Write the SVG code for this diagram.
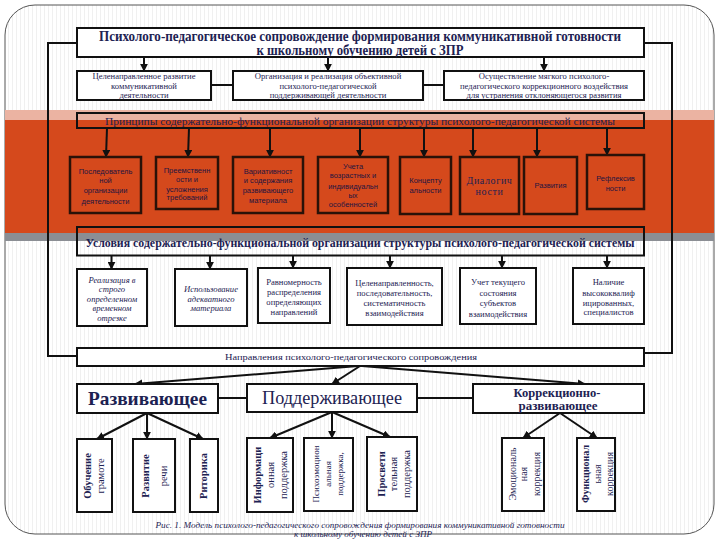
<svg xmlns="http://www.w3.org/2000/svg" width="720" height="540" viewBox="0 0 720 540">
<style>
.box{fill:#fff;stroke:#111;stroke-width:2}
.hdr{fill:none;stroke:#111;stroke-width:2}
.pbox{fill:#D5491C;stroke:#2a1208;stroke-width:2.5}
.conn{stroke:#111;stroke-width:2;fill:none}
.arr{stroke:#111;stroke-width:2;fill:none;marker-end:url(#ah)}
.t{font-family:"Liberation Serif","DejaVu Serif",serif;fill:#1d2252;text-anchor:middle}
.s{font-family:"Liberation Sans","DejaVu Sans",sans-serif;fill:#1e1540;text-anchor:middle;font-size:7.5px}
.sub{font-size:8.6px}
.cnd{font-size:8.6px}
.vt{font-size:10.5px}
.b{font-weight:bold}
.i{font-style:italic}
</style>
<defs>
<marker id="ah" viewBox="0 0 10 10" refX="9" refY="5" markerWidth="4" markerHeight="4" orient="auto" markerUnits="strokeWidth">
<path d="M0,0 L10,5 L0,10 z" fill="#111"/>
</marker>
<pattern id="stripes" width="4" height="4" patternUnits="userSpaceOnUse">
<rect width="4" height="4" fill="#fff"/>
<rect width="1" height="4" fill="#f0f0f0"/>
</pattern>
</defs>

<rect x="0" y="0" width="720" height="540" fill="#fff"/>
<rect x="5" y="5" width="709" height="529" rx="30" ry="30" fill="url(#stripes)" stroke="#555" stroke-width="1"/>

<g id="bands">
<rect x="5" y="110" width="709" height="10" fill="#EBB3A2"/>
<rect x="5" y="120" width="709" height="113" fill="#D5491C"/>
<rect x="5" y="233" width="709" height="8" fill="#8B8E94"/>
</g>

<g id="connectors">
<polyline class="conn" points="77,43 48,43 48,356 77,356"/>
<polyline class="conn" points="644,43 672,43 672,353 644,353"/>
<line class="arr" x1="144" y1="57" x2="144" y2="71"/>
<line class="arr" x1="328" y1="57" x2="328" y2="71"/>
<line class="arr" x1="544" y1="57" x2="544" y2="71"/>
<line class="conn" x1="211" y1="85" x2="233" y2="85"/>
<line class="conn" x1="423" y1="85" x2="444" y2="85"/>
<line class="arr" x1="107" y1="128" x2="106" y2="157"/>
<line class="arr" x1="189" y1="128" x2="188" y2="157"/>
<line class="arr" x1="270" y1="128" x2="270" y2="157"/>
<line class="arr" x1="360" y1="128" x2="360" y2="157"/>
<line class="arr" x1="424" y1="128" x2="424" y2="157"/>
<line class="arr" x1="473" y1="128" x2="473" y2="157"/>
<line class="arr" x1="537" y1="128" x2="537" y2="157"/>
<line class="arr" x1="607" y1="128" x2="607" y2="155"/>
<line class="arr" x1="111.5" y1="255.5" x2="111.5" y2="269"/>
<line class="arr" x1="210" y1="255.5" x2="210" y2="269"/>
<line class="arr" x1="293" y1="255.5" x2="293" y2="268"/>
<line class="arr" x1="390" y1="255.5" x2="390" y2="268"/>
<line class="arr" x1="502" y1="255.5" x2="502" y2="268"/>
<line class="arr" x1="607" y1="255.5" x2="607" y2="268"/>
<line class="arr" x1="358" y1="366" x2="135" y2="384"/>
<line class="arr" x1="360" y1="366" x2="332" y2="384"/>
<line class="arr" x1="362" y1="366" x2="585" y2="384"/>
<line class="conn" x1="218" y1="398" x2="247" y2="398"/>
<line class="conn" x1="417" y1="398" x2="473" y2="398"/>
<line class="arr" x1="147" y1="413" x2="97" y2="439"/>
<line class="arr" x1="147" y1="413" x2="147" y2="439"/>
<line class="arr" x1="147" y1="413" x2="203" y2="439"/>
<line class="arr" x1="332" y1="412" x2="270" y2="438"/>
<line class="arr" x1="332" y1="412" x2="332" y2="438"/>
<line class="arr" x1="332" y1="412" x2="390" y2="437"/>
<line class="arr" x1="560" y1="413" x2="523" y2="438"/>
<line class="arr" x1="560" y1="413" x2="597" y2="438"/>
</g>

<g id="title">
<rect class="box" x="77" y="28" width="567" height="29" stroke-width="2.5"/>
<text class="t b" x="360" y="40.5" font-size="14" textLength="522" lengthAdjust="spacingAndGlyphs">Психолого-педагогическое сопровождение формирования коммуникативной готовности</text>
<text class="t b" x="360" y="54.5" font-size="14" textLength="207" lengthAdjust="spacingAndGlyphs">к школьному обучению детей с ЗПР</text>
</g>

<g id="goal1">
<rect class="box" x="77" y="71" width="134" height="29"/>
<text class="t sub" x="144" y="79">Целенаправленное развитие</text>
<text class="t sub" x="144" y="88.5">коммуникативной</text>
<text class="t sub" x="144" y="98">деятельности</text>
</g>
<g id="goal2">
<rect class="box" x="233" y="71" width="190" height="29"/>
<text class="t sub" x="328" y="79">Организация и реализация объективной</text>
<text class="t sub" x="328" y="88.5">психолого-педагогической</text>
<text class="t sub" x="328" y="98">поддерживающей деятельности</text>
</g>
<g id="goal3">
<rect class="box" x="444" y="71" width="200" height="29"/>
<text class="t sub" x="544" y="79">Осуществление мягкого психолого-</text>
<text class="t sub" x="544" y="88.5">педагогического коррекционного воздействия</text>
<text class="t sub" x="544" y="98">для устранения отклоняющегося развития</text>
</g>

<g id="principles-header">
<rect class="hdr" x="77" y="113" width="567" height="15" stroke="#2a1208"/>
<text class="t" x="360" y="124.5" font-size="11" fill="#2a1a55" textLength="510" lengthAdjust="spacingAndGlyphs">Принципы содержательно-функциональной организации структуры психолого-педагогической системы</text>
</g>

<g id="p1">
<rect class="pbox" x="70" y="157" width="71" height="56"/>
<text class="s" x="105.5" y="174">Последователь</text>
<text class="s" x="105.5" y="183">ной</text>
<text class="s" x="105.5" y="193">организации</text>
<text class="s" x="105.5" y="203.5">деятельности</text>
</g>
<g id="p2">
<rect class="pbox" x="156" y="157" width="62" height="52"/>
<text class="s" x="187" y="172.5">Преемственн</text>
<text class="s" x="187" y="181.5">ости и</text>
<text class="s" x="187" y="191.5">усложнения</text>
<text class="s" x="187" y="200">требований</text>
</g>
<g id="p3">
<rect class="pbox" x="233" y="157" width="70" height="56"/>
<text class="s" x="268" y="173.5">Вариативност</text>
<text class="s" x="268" y="182.5">и содержания</text>
<text class="s" x="268" y="193">развивающего</text>
<text class="s" x="268" y="202.5">материала</text>
</g>
<g id="p4">
<rect class="pbox" x="318" y="157" width="70" height="56"/>
<text class="s" x="353" y="168.5">Учета</text>
<text class="s" x="353" y="178">возрастных и</text>
<text class="s" x="353" y="188.5">индивидуальн</text>
<text class="s" x="353" y="197.5">ых</text>
<text class="s" x="353" y="206.5">особенностей</text>
</g>
<g id="p5">
<rect class="pbox" x="400" y="157" width="51" height="57"/>
<text class="s" x="425.5" y="182.5">Концепту</text>
<text class="s" x="425.5" y="193">альности</text>
</g>
<g id="p6">
<rect class="pbox" x="460" y="157" width="59" height="57"/>
<text class="t" x="489.5" y="183.5" font-size="10" fill="#1e1540" letter-spacing="0.6">Диалогич</text>
<text class="t" x="489.5" y="195" font-size="10" fill="#1e1540" letter-spacing="0.6">ности</text>
</g>
<g id="p7">
<rect class="pbox" x="524" y="157" width="53" height="57"/>
<text class="s" x="550.5" y="187.5">Развития</text>
</g>
<g id="p8">
<rect class="pbox" x="587" y="155" width="57" height="54"/>
<text class="s" x="615.5" y="180.5">Рефлексив</text>
<text class="s" x="615.5" y="190.5">ности</text>
</g>

<g id="conditions-header">
<rect class="hdr" x="77" y="227" width="567" height="28.5"/>
<text class="t b" x="360" y="247" font-size="11.5" textLength="549" lengthAdjust="spacingAndGlyphs">Условия содержательно-функциональной организации структуры психолого-педагогической системы</text>
</g>

<g id="c1">
<rect class="box" x="77" y="269" width="70" height="57"/>
<text class="t cnd i" x="112" y="282.5">Реализация в</text>
<text class="t cnd i" x="112" y="292">строго</text>
<text class="t cnd i" x="112" y="301.5">определенном</text>
<text class="t cnd i" x="112" y="311">временном</text>
<text class="t cnd i" x="112" y="321">отрезке</text>
</g>
<g id="c2">
<rect class="box" x="175" y="269" width="72" height="57"/>
<text class="t cnd i" x="211" y="292">Использование</text>
<text class="t cnd i" x="211" y="301.5">адекватного</text>
<text class="t cnd i" x="211" y="311">материала</text>
</g>
<g id="c3">
<rect class="box" x="258" y="268" width="72" height="55"/>
<text class="t cnd" x="294" y="285">Равномерность</text>
<text class="t cnd" x="294" y="295">распределения</text>
<text class="t cnd" x="294" y="304.5">определяющих</text>
<text class="t cnd" x="294" y="314.5">направлений</text>
</g>
<g id="c4">
<rect class="box" x="347" y="268" width="95" height="57"/>
<text class="t cnd" x="394.5" y="286">Целенаправленность,</text>
<text class="t cnd" x="394.5" y="296">последовательность,</text>
<text class="t cnd" x="394.5" y="306">систематичность</text>
<text class="t cnd" x="394.5" y="315.5">взаимодействия</text>
</g>
<g id="c5">
<rect class="box" x="460" y="268" width="76" height="56"/>
<text class="t cnd" x="498" y="285">Учет текущего</text>
<text class="t cnd" x="498" y="295.5">состояния</text>
<text class="t cnd" x="498" y="306">субъектов</text>
<text class="t cnd" x="498" y="317">взаимодействия</text>
</g>
<g id="c6">
<rect class="box" x="573" y="268" width="71" height="56"/>
<text class="t cnd" x="608.5" y="285">Наличие</text>
<text class="t cnd" x="608.5" y="295.5">высококвалиф</text>
<text class="t cnd" x="608.5" y="306">ицированных,</text>
<text class="t cnd" x="608.5" y="314.5">специалистов</text>
</g>

<g id="directions">
<rect class="box" x="77" y="348" width="567" height="18"/>
<text class="t" x="351" y="360" font-size="8.6" textLength="252" lengthAdjust="spacingAndGlyphs">Направления психолого-педагогического сопровождения</text>
</g>

<g id="d-razv">
<rect class="box" x="77" y="384" width="141" height="29"/>
<text class="t b" x="147.5" y="404.5" font-size="19" textLength="119" lengthAdjust="spacingAndGlyphs">Развивающее</text>
</g>
<g id="d-podd">
<rect class="box" x="247" y="384" width="170" height="28"/>
<text class="t" x="332" y="404" font-size="18" textLength="140" lengthAdjust="spacingAndGlyphs">Поддерживающее</text>
</g>
<g id="d-korr">
<rect class="box" x="473" y="384" width="171" height="29"/>
<text class="t b" x="557" y="396.5" font-size="12.5" textLength="87" lengthAdjust="spacingAndGlyphs">Коррекционно-</text>
<text class="t b" x="558" y="410" font-size="12.5" textLength="79" lengthAdjust="spacingAndGlyphs">развивающее</text>
</g>

<g id="b1">
<rect class="box" x="77" y="439" width="35" height="73"/>
<text class="t vt b" transform="translate(90.5,476) rotate(-90)">Обучение</text>
<text class="t vt" transform="translate(103.5,476) rotate(-90)">грамоте</text>
</g>
<g id="b2">
<rect class="box" x="133" y="439" width="42" height="73"/>
<text class="t vt b" transform="translate(148.5,476) rotate(-90)">Развитие</text>
<text class="t vt" transform="translate(166.5,476) rotate(-90)">речи</text>
</g>
<g id="b3">
<rect class="box" x="190" y="439" width="28" height="73"/>
<text class="t vt b" transform="translate(207,476) rotate(-90)">Риторика</text>
</g>
<g id="b4">
<rect class="box" x="247" y="438" width="46" height="74"/>
<text class="t vt b" transform="translate(260.5,475) rotate(-90)">Информаци</text>
<text class="t vt" transform="translate(273.5,475) rotate(-90)">онная</text>
<text class="t vt" transform="translate(286.5,475) rotate(-90)">поддержка</text>
</g>
<g id="b5">
<rect class="box" x="304" y="438" width="49" height="73"/>
<text class="t" font-size="9" transform="translate(319,474) rotate(-90)">Психоэмоцион</text>
<text class="t" font-size="9" transform="translate(331,474) rotate(-90)">альная</text>
<text class="t" font-size="9" transform="translate(343,474) rotate(-90)">поддержка,</text>
</g>
<g id="b6">
<rect class="box" x="367" y="437" width="50" height="74"/>
<text class="t vt b" transform="translate(384.5,474) rotate(-90)">Просвети</text>
<text class="t vt" transform="translate(396.5,474) rotate(-90)">тельная</text>
<text class="t vt" transform="translate(409.5,474) rotate(-90)">поддержка</text>
</g>
<g id="b7">
<rect class="box" x="502" y="438" width="42" height="73"/>
<text class="t" font-size="10" transform="translate(515.5,474) rotate(-90)">Эмоциональ</text>
<text class="t" font-size="10" transform="translate(526.5,474) rotate(-90)">ная</text>
<text class="t" font-size="10" transform="translate(539.5,474) rotate(-90)">коррекция</text>
</g>
<g id="b8">
<rect class="box" x="577" y="438" width="38" height="73"/>
<text class="t b" font-size="10" transform="translate(588.5,474) rotate(-90)">Функционал</text>
<text class="t" font-size="10" transform="translate(600.5,474) rotate(-90)">ьная</text>
<text class="t" font-size="10" transform="translate(612.5,474) rotate(-90)">коррекция</text>
</g>

<g id="caption">
<text class="t i" x="360" y="528" font-size="8" textLength="409" lengthAdjust="spacingAndGlyphs">Рис. 1. Модель психолого-педагогического сопровождения формирования коммуникативной готовности</text>
<text class="t i" x="363" y="536.5" font-size="8" textLength="138" lengthAdjust="spacingAndGlyphs">к школьному обучению детей с ЗПР</text>
</g>
</svg>
